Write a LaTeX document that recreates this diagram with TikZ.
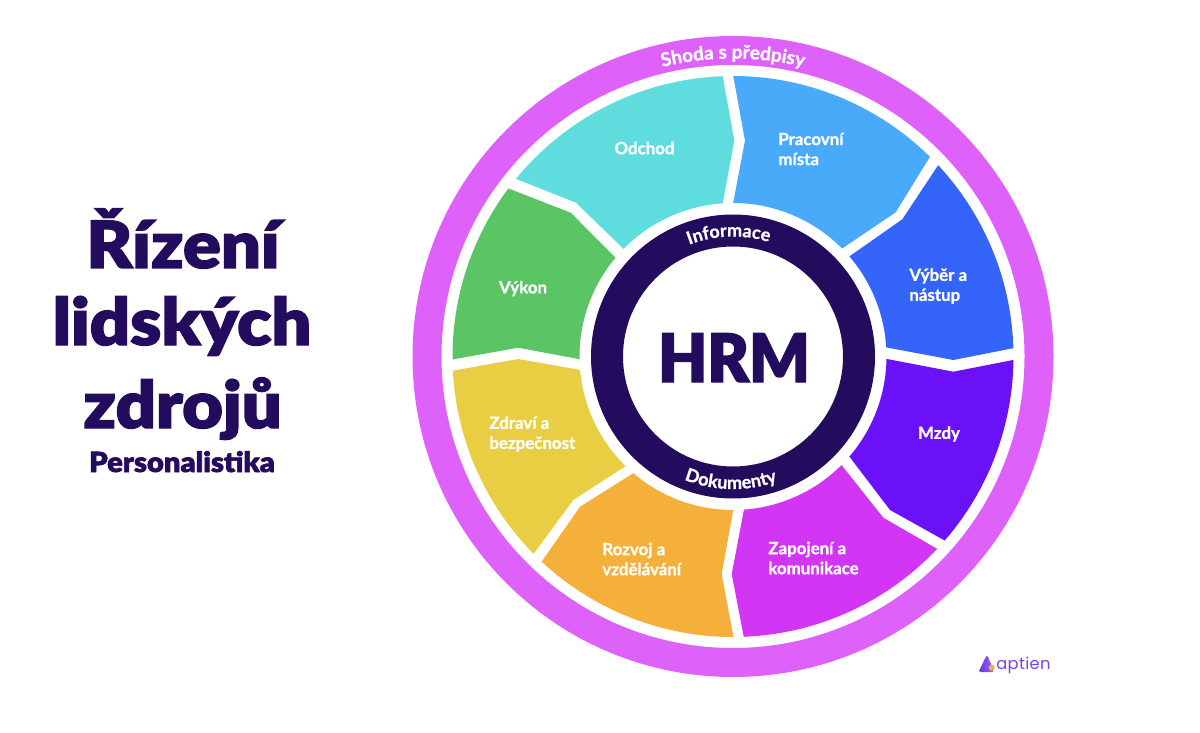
\documentclass[tikz,border=0pt]{standalone}
\usepackage{fontspec}
\setmainfont{Lato}[BoldFeatures={FakeBold=0.9}]
\newfontfamily\blackfont{Lato Black}[FakeBold=2.2,FakeStretch=1.08]
\newfontfamily\subfont{Lato Black}[FakeBold=2.2,FakeStretch=1.05]
\newfontfamily\hrmfont{Lato Black}[FakeBold=2.2,FakeStretch=0.95]
\newfontfamily\logofont{Poppins}[LetterSpace=2]
\usetikzlibrary{decorations.text}
\definecolor{ringc}{HTML}{DE62F9}
\definecolor{darkc}{HTML}{230C5E}
\definecolor{odchodc}{HTML}{5FDDDE}
\definecolor{pracc}{HTML}{48AAF9}
\definecolor{vyberc}{HTML}{3464F9}
\definecolor{mzdyc}{HTML}{6A11F7}
\definecolor{zapc}{HTML}{D335F5}
\definecolor{rozc}{HTML}{F5AF3B}
\definecolor{zdrc}{HTML}{E9CE44}
\definecolor{vykc}{HTML}{5BC465}
\definecolor{logoc}{HTML}{7B3FF2}
\definecolor{logod}{HTML}{5F35D8}
\definecolor{logol}{HTML}{A866F5}
\newcommand\pol[2]{([shift={(#1:#2)}]c)}
\newcommand\labfont{\bfseries\fontsize{9.6pt}{11.4pt}\selectfont}
\newcommand\bandfont{\bfseries\fontsize{10.8pt}{12pt}\selectfont}
\newcommand\bandfontb{\bfseries\fontsize{10.2pt}{12pt}\selectfont}
\newcommand\bandfontc{\bfseries\fontsize{10.3pt}{12pt}\selectfont}
\tikzset{
  seglabel/.style={text=white,font=\labfont,align=left,inner sep=0pt,anchor=west},
  titleline/.style={text=darkc,font=\blackfont\fontsize{37pt}{40pt}\selectfont,inner sep=0pt,anchor=base},
}
\begin{document}
\begin{tikzpicture}[x=0.02cm,y=-0.02cm]
\useasboundingbox (0,0) rectangle (1200,733);
\coordinate (c) at (733,356.5);
% rings
\path[fill=ringc,even odd rule] (c) circle[radius=320.5] (c) circle[radius=291.5];
\path[fill=darkc,even odd rule] (c) circle[radius=142] (c) circle[radius=110];
% segments
\path[fill=odchodc] \pol{219.3}{280.5} arc[start angle=219.3,end angle=267.9,radius=280.5]
  -- (734.3,140.7) -- \pol{266.15}{153.5} arc[start angle=266.15,end angle=224.5,radius=153.5]
  -- (576,202.7) -- cycle;
\path[fill=pracc] \pol{270.05}{280.5} arc[start angle=270.05,end angle=314.6,radius=280.5]
  -- (895.7,212.3) -- \pol{315.3}{153.5} arc[start angle=315.3,end angle=270.05,radius=153.5]
  -- (745,140.7) -- cycle;
\path[fill=vyberc] \pol{317}{280.5} arc[start angle=317,end angle=358.3,radius=280.5]
  -- (953.3,360) -- \pol{356.6}{153.5} arc[start angle=356.6,end angle=319.3,radius=153.5]
  -- (902.3,219.3) -- cycle;
\path[fill=mzdyc] \pol{0.7}{280.5} arc[start angle=0.7,end angle=41,radius=280.5]
  -- (890,510) -- \pol{40.7}{153.5} arc[start angle=40.7,end angle=0.9,radius=153.5]
  -- (953.3,371.7) -- cycle;
\path[fill=zapc] \pol{43.3}{280.5} arc[start angle=43.3,end angle=87.8,radius=280.5]
  -- (731.7,574) -- \pol{85.9}{153.5} arc[start angle=85.9,end angle=45,radius=153.5]
  -- (883.3,517.7) -- cycle;
\path[fill=rozc] \pol{89.9}{280.5} arc[start angle=89.9,end angle=133,radius=280.5]
  -- (580,506.7) -- \pol{130.5}{153.5} arc[start angle=130.5,end angle=89.9,radius=153.5]
  -- (721.7,574) -- cycle;
\path[fill=zdrc] \pol{135.3}{280.5} arc[start angle=135.3,end angle=177.1,radius=280.5]
  -- (518.3,359) -- \pol{175}{153.5} arc[start angle=175,end angle=134.4,radius=153.5]
  -- (573.3,500) -- cycle;
\path[fill=vykc] \pol{179.4}{280.5} arc[start angle=179.4,end angle=216.8,radius=280.5]
  -- (570.7,212.7) -- \pol{220.1}{153.5} arc[start angle=220.1,end angle=179,radius=153.5]
  -- (518.3,347.7) -- cycle;
% labels
\node[seglabel,anchor=center] (odchod) at (644.5,148) {Odchod};
\node[seglabel] (prac) at (778,149) {Pracovní\\místa};
\node[seglabel] (vyber) at (909,286) {Výběr a\\nástup};
\node[seglabel,anchor=center] (mzdy) at (939,434) {Mzdy};
\node[seglabel] (zap) at (768,558) {Zapojení a\\komunikace};
\node[seglabel] (roz) at (602,559) {Rozvoj a\\vzdělávání};
\node[seglabel] (zdr) at (489,434) {Zdraví a\\bezpečnost};
\node[seglabel,anchor=center] (vyk) at (523,288.5) {Výkon};
% band texts
\path[decorate,decoration={text along path,text align=center,
  text={|\bandfont\color{white}|Shoda s předpisy}}]
  \pol{250}{298} arc[start angle=250,end angle=290,radius=298];
\path[decorate,decoration={text along path,text align=center,
  text={|\bandfontb\color{white}|Informace}}]
  \pol{238}{120} arc[start angle=238,end angle=298,radius=120];
\path[decorate,decoration={text along path,text align=center,
  text={|\bandfontc\color{white}|Dokumenty}}]
  \pol{126}{132.5} arc[start angle=126,end angle=56,radius=132.5];
% centre
\node[text=darkc,font=\hrmfont\fontsize{38pt}{40pt}\selectfont,inner sep=0pt,anchor=base] (hrm) at (734,382) {HRM};
% title
\node[titleline] (t1) at (183,268) {Řízení};
\node[titleline] (t2) at (182,345) {lidských};
\node[titleline] (t3) at (182.5,428) {zdrojů};
\node[text=darkc,font=\subfont\fontsize{15.8pt}{18pt}\selectfont,inner sep=0pt,anchor=base] (t4) at (182,472) {Personalistika};
% logo
\path[left color=logod,right color=logol,rounded corners=1.5pt] (978.5,672) -- (987,654.5) -- (994.5,672) -- cycle;
\path[fill=rozc] (991.7,667.7) circle[radius=3];
\node[text=logoc,font=\logofont\fontsize{9.3pt}{11pt}\selectfont,inner sep=0pt,anchor=base west] (logo) at (996,669) {aptien};
\end{tikzpicture}
\end{document}
